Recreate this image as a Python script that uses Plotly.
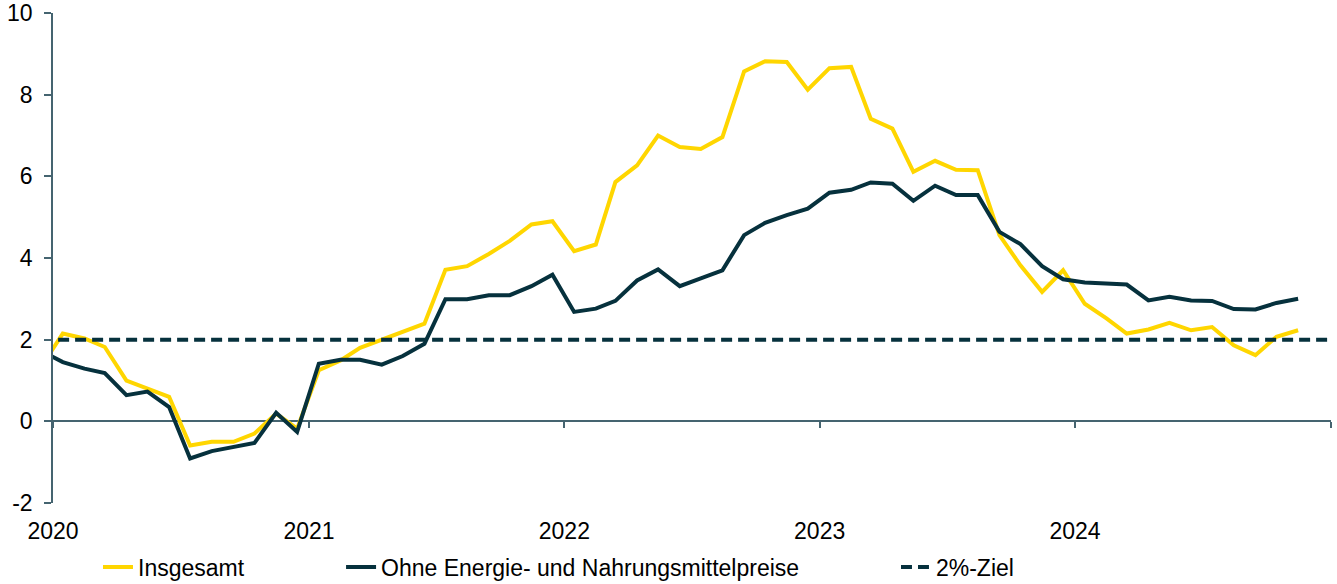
import plotly.graph_objects as go

# Monthly observations, Dec 2019 .. Nov 2024 (plotted at mid-month)
months = [f"{y}-{m:02d}-15" for y, m in [(2019, 12)] + [(yy, mm) for yy in range(2020, 2025) for mm in range(1, 13)]][:60]

insgesamt = [
    1.33,                                                          # Dec 2019
    2.15, 2.03, 1.82, 1.00, 0.80, 0.60, -0.59, -0.50, -0.50, -0.30, 0.19, -0.18,   # 2020
    1.25, 1.49, 1.80, 2.00, 2.19, 2.39, 3.71, 3.80, 4.10, 4.42, 4.82, 4.90,        # 2021
    4.17, 4.33, 5.86, 6.27, 7.00, 6.72, 6.67, 6.96, 8.57, 8.82, 8.80, 8.12,        # 2022
    8.65, 8.68, 7.41, 7.17, 6.11, 6.38, 6.16, 6.15, 4.56, 3.82, 3.17, 3.70,        # 2023
    2.88, 2.52, 2.15, 2.25, 2.41, 2.23, 2.31, 1.86, 1.62, 2.07, 2.23,              # 2024
]

kern = [
    1.73,                                                          # Dec 2019
    1.45, 1.29, 1.18, 0.64, 0.73, 0.35, -0.91, -0.73, -0.63, -0.53, 0.21, -0.26,   # 2020
    1.41, 1.51, 1.51, 1.39, 1.60, 1.90, 2.99, 2.99, 3.09, 3.09, 3.31, 3.59,        # 2021
    2.68, 2.76, 2.95, 3.45, 3.72, 3.31, 3.50, 3.70, 4.56, 4.86, 5.05, 5.21,        # 2022
    5.60, 5.67, 5.85, 5.82, 5.40, 5.77, 5.54, 5.54, 4.64, 4.34, 3.80, 3.48,        # 2023
    3.40, 3.38, 3.35, 2.96, 3.05, 2.96, 2.95, 2.75, 2.74, 2.90, 3.00,              # 2024
]

ziel_x = ["2019-12-15", "2024-12-31"]
ziel_y = [2, 2]

year_ticks = ["2020-01-01", "2021-01-01", "2022-01-01", "2023-01-01", "2024-01-01"]
year_labels = ["2020", "2021", "2022", "2023", "2024"]
year_ticks_all = year_ticks + ["2025-01-01"]
y_ticks = [-2, 0, 2, 4, 6, 8, 10]
y_labels = ["-2", "0", "2", "4", "6", "8", "10"]

YELLOW = "#FFD600"
DARK = "#06313D"
AXIS = "#456470"
FONT = "Liberation Sans, Arial, sans-serif"
FS = 23

fig = go.Figure()
fig.add_trace(go.Scatter(x=months, y=insgesamt, mode="lines", name="Insgesamt",
                         line=dict(color=YELLOW, width=4), legend="legend"))
fig.add_trace(go.Scatter(x=months, y=kern, mode="lines",
                         name="Ohne Energie- und Nahrungsmittelpreise",
                         line=dict(color=DARK, width=4), legend="legend2"))
fig.add_trace(go.Scatter(x=ziel_x, y=ziel_y, mode="lines", name="2%-Ziel",
                         line=dict(color=DARK, width=4, dash="11px,6px"),
                         xaxis="x2", legend="legend3"))

x_range = ["2020-01-01", "2025-01-01"]

legend_common = dict(orientation="h", yanchor="middle", y=-0.1306, xanchor="left",
                     font=dict(family=FONT, size=FS, color="#000000"),
                     bgcolor="rgba(0,0,0,0)", itemwidth=30)

fig.update_layout(
    width=1337, height=584,
    margin=dict(l=53, r=6, t=13, b=81, autoexpand=False),
    paper_bgcolor="white", plot_bgcolor="white",
    font=dict(family=FONT, size=FS, color="#000000"),
    xaxis=dict(type="date", range=x_range, tickvals=year_ticks, ticktext=year_labels,
               showline=False, ticks="", showgrid=False, zeroline=False,
               ticklabelstandoff=12, automargin=False,
               tickfont=dict(family=FONT, size=FS, color="#000000")),
    xaxis2=dict(type="date", range=x_range, overlaying="x", anchor="free",
                position=1 / 6, side="bottom", showline=True, linecolor=AXIS,
                linewidth=1.5, ticks="outside", ticklen=6, tickwidth=1.5,
                tickcolor=AXIS, tickvals=year_ticks_all, showticklabels=False,
                showgrid=False, zeroline=False, layer="below traces", automargin=False),
    yaxis=dict(range=[-2, 10], tickvals=y_ticks, ticktext=y_labels,
               showline=True, linecolor=AXIS, linewidth=1.5,
               ticks="outside", ticklen=7, tickwidth=1.5, tickcolor=AXIS,
               showgrid=False, zeroline=False, ticklabelstandoff=7, automargin=False,
               tickfont=dict(family=FONT, size=FS, color="#000000")),
    legend=dict(legend_common, x=0.0352),
    legend2=dict(legend_common, x=0.2254),
    legend3=dict(legend_common, x=0.6596),
    showlegend=True,
)

fig.write_html(
    "out.html",
    config={"displayModeBar": False},
    post_script="document.body.style.margin='0';document.body.style.overflow='hidden';",
)
